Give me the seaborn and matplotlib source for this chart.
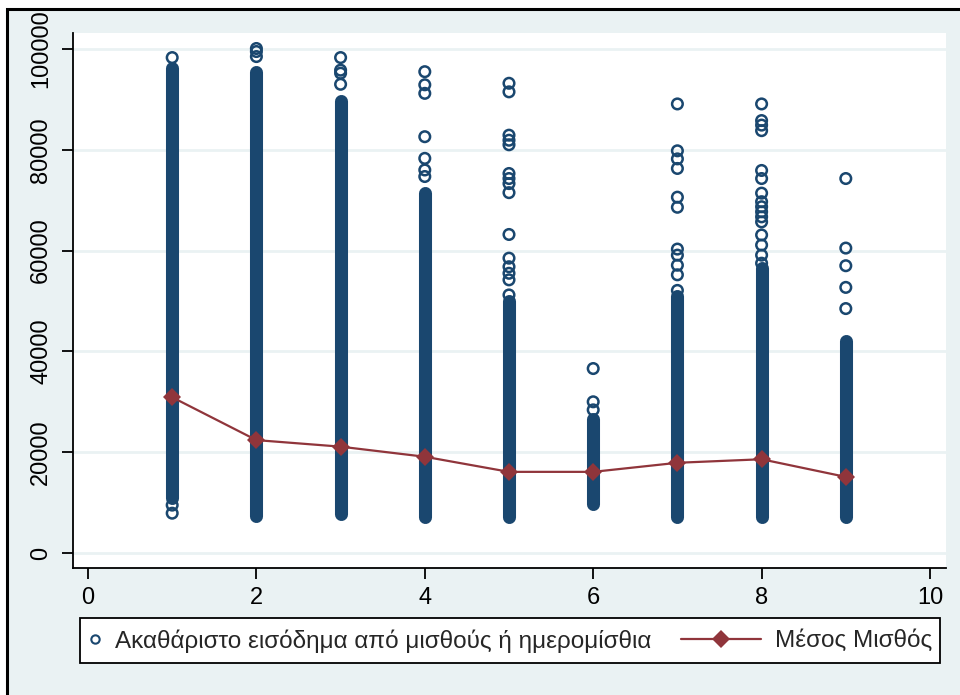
import matplotlib
matplotlib.use("Agg")
import matplotlib.pyplot as plt
from matplotlib.lines import Line2D
from matplotlib.patches import Rectangle
import seaborn as sns
import pandas as pd

# %% data
categories = [1, 2, 3, 4, 5, 6, 7, 8, 9]
mean_wage = [30900, 22400, 21100, 19100, 16100, 16100, 17900, 18600, 15100]

# dense part of each column (the solid bar of overlapping circles)
dense_low = [10900, 7400, 7700, 7200, 7200, 9700, 7100, 7100, 7100]
dense_high = [96200, 95400, 89600, 71400, 50000, 26600, 50900, 56500, 42000]

# individual circles outside the dense part
out_1 = [98300, 9500, 7900]
out_2 = [100100, 99500, 98500]
out_3 = [98300, 95800, 95200, 93000]
out_4 = [95500, 92900, 91200, 82600, 78300, 76000, 74700]
out_5 = [93200, 91500, 82900, 81900, 81000, 75300, 74300, 73300, 71500,
         63200, 58500, 56800, 55500, 54200, 51200]
out_6 = [36600, 30000, 28400]
out_7 = [89100, 79800, 78200, 76300, 70600, 68600, 60300, 59100, 57100,
         55200, 52100]
out_8 = [89100, 85800, 84900, 83800, 75900, 74300, 71400, 69700, 68700,
         67700, 66700, 65700, 63100, 61100, 59100, 57500]
out_9 = [74300, 60500, 57000, 52700, 48500]

scatter_label = "Ακαθάριστο εισόδημα από μισθούς ή ημερομίσθια"
line_label = "Μέσος Μισθός"

# %% styling
NAVY = "#1a476f"
MAROON = "#90353b"
BG = "#eaf2f3"
W, H = 960, 695

sns.set_style("white")
plt.rcParams["font.family"] = ["Liberation Sans", "DejaVu Sans"]

outliers = [out_1, out_2, out_3, out_4, out_5, out_6, out_7, out_8, out_9]
df_pts = pd.DataFrame({
    "cat": [c for c, vals in zip(categories, outliers) for _ in vals],
    "income": [v for vals in outliers for v in vals],
})
df_mean = pd.DataFrame({"cat": categories, "mean": mean_wage})

fig = plt.figure(figsize=(W / 100, H / 100), dpi=100, facecolor="white")
# graph region with the black frame on top/left
fig.patches.append(Rectangle((7 / W, -0.05), 1.1, 1 - 9 / H + 0.05,
                             transform=fig.transFigure, facecolor=BG,
                             edgecolor="black", linewidth=2.2, zorder=-10))

ax = fig.add_axes([73 / W, 1 - 568 / H, (946 - 73) / W, (568 - 33) / H])
ax.set_facecolor("white")

# dense columns drawn as thick rounded bars (same width as a circle)
bars = ax.vlines(categories, dense_low, dense_high, color=NAVY,
                 linewidth=9.4, zorder=2)
bars.set_capstyle("round")

sns.scatterplot(data=df_pts, x="cat", y="income", ax=ax, marker="o",
                s=58, facecolor="none", edgecolor=NAVY, linewidth=1.8,
                zorder=3, legend=False)

sns.lineplot(data=df_mean, x="cat", y="mean", ax=ax, color=MAROON,
             linewidth=1.6, marker="D", markersize=9, markeredgewidth=0,
             zorder=4, legend=False)

ax.set_xlim(-0.178, 10.19)
ax.set_ylim(-2976, 103175)
ax.set_xticks([0, 2, 4, 6, 8, 10])
ax.set_yticks([0, 20000, 40000, 60000, 80000, 100000])
ax.set_xlabel("")
ax.set_ylabel("")

ax.grid(axis="y", color=BG, linewidth=2)
ax.grid(axis="x", visible=False)
ax.set_axisbelow(True)

for side in ["top", "right"]:
    ax.spines[side].set_visible(False)
for side in ["left", "bottom"]:
    ax.spines[side].set_color("black")
    ax.spines[side].set_linewidth(1.3)

ax.tick_params(axis="both", direction="out", length=8, width=1.3,
               color="black", labelsize=17, labelcolor="black")
ax.tick_params(axis="x", pad=6, left=True, bottom=True)
ax.tick_params(axis="y", pad=7, labelrotation=90, left=True)
for lab in ax.get_yticklabels():
    lab.set_va("center")

# %% legend box
fig.patches.append(Rectangle((80 / W, 1 - 663 / H), 860 / W, 45 / H,
                             transform=fig.transFigure, facecolor="white",
                             edgecolor="black", linewidth=1.3, zorder=1))

h_pts = Line2D([], [], linestyle="none", marker="o", markersize=6,
               markerfacecolor="none", markeredgecolor=NAVY,
               markeredgewidth=1.5)
h_line = Line2D([], [], color=MAROON, linewidth=1.6, marker="D",
                markersize=9, markeredgewidth=0)

leg1 = fig.legend([h_pts], [scatter_label], loc="center left",
                  bbox_to_anchor=(88 / W, 1 - 641 / H), frameon=False,
                  handlelength=0.6, handletextpad=0.5, borderpad=0,
                  borderaxespad=0, fontsize=17.5)
leg2 = fig.legend([h_line], [line_label], loc="center right",
                  bbox_to_anchor=(932 / W, 1 - 641 / H), frameon=False,
                  handlelength=3.3, handletextpad=0.55, borderpad=0,
                  borderaxespad=0, fontsize=17.5)
for leg in (leg1, leg2):
    leg.set_zorder(2)

fig.savefig("out.png", dpi=100, facecolor=fig.get_facecolor())
